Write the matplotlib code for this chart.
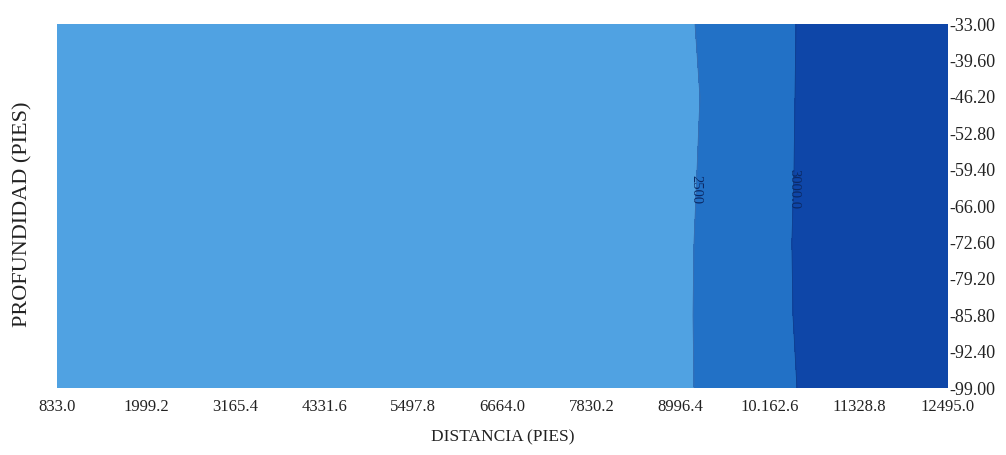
import matplotlib.pyplot as plt
import numpy as np

# grid columns (distance, ft) and rows (depth, ft)
distancia = [833.0, 8800.0, 9600.0, 10200.0, 10800.0, 12495.0]
profundidad = [-33.0, -46.2, -59.4, -72.6, -85.8, -99.0]

# field values per depth row
valores = [
    [2000, 2315, 2700, 2792, 3200, 3400],
    [2000, 2244, 2700, 2809, 3200, 3400],
    [2000, 2289, 2700, 2825, 3200, 3400],
    [2000, 2327, 2700, 2855, 3200, 3400],
    [2000, 2338, 2700, 2840, 3200, 3400],
    [2000, 2327, 2700, 2773, 3200, 3400],
]

niveles = [1900, 2500, 3000, 3500]
colores = ["#50a2e2", "#2271c6", "#0e46a8"]

xticks = [833.0, 1999.2, 3165.4, 4331.6, 5497.8, 6664.0, 7830.2, 8996.4, 10162.6, 11328.8, 12495.0]
xlabels = ["833.0", "1999.2", "3165.4", "4331.6", "5497.8", "6664.0", "7830.2", "8996.4", "10.162.6", "11328.8", "12495.0"]
yticks = [-33.0, -39.6, -46.2, -52.8, -59.4, -66.0, -72.6, -79.2, -85.8, -92.4, -99.0]

plt.rcParams["font.family"] = ["Liberation Serif", "DejaVu Serif"]

fig = plt.figure(figsize=(10.06, 4.55), dpi=100)
ax = fig.add_axes([0.0567, 0.147, 0.8856, 0.8])

X, Y = np.meshgrid(distancia, profundidad)
Z = np.array(valores)
ax.contourf(X, Y, Z, levels=niveles, colors=colores)
cs = ax.contour(X, Y, Z, levels=[2500, 3000], colors=["#3a6fb0", "#10408f"], linewidths=0.6)
ax.clabel(cs, fmt={2500: "2500", 3000: "3000.0"}, fontsize=10.5, colors="#0b2a66",
          manual=[(9200, -63), (10480, -63)], inline=False)
for t in ax.texts:
    t.set_rotation(270)

ax.set_xlim(833, 12495)
ax.set_ylim(-99, -33)
ax.set_xticks(xticks)
ax.set_xticklabels(xlabels)
ax.set_yticks(yticks)
ax.set_yticklabels(["%.2f" % v for v in yticks])
ax.yaxis.tick_right()
ax.tick_params(axis="both", length=0, colors="#222222")
ax.tick_params(axis="x", pad=8, labelsize=12)
ax.tick_params(axis="y", pad=1, labelsize=13)
for s in ax.spines.values():
    s.set_visible(False)

ax.set_xlabel("DISTANCIA (PIES)", fontsize=12.5, color="#222222", labelpad=10)
fig.text(0.023, 0.53, "PROFUNDIDAD (PIES)", rotation=90, fontsize=16,
         color="#222222", ha="center", va="center")

fig.savefig("out.png", dpi=100)
